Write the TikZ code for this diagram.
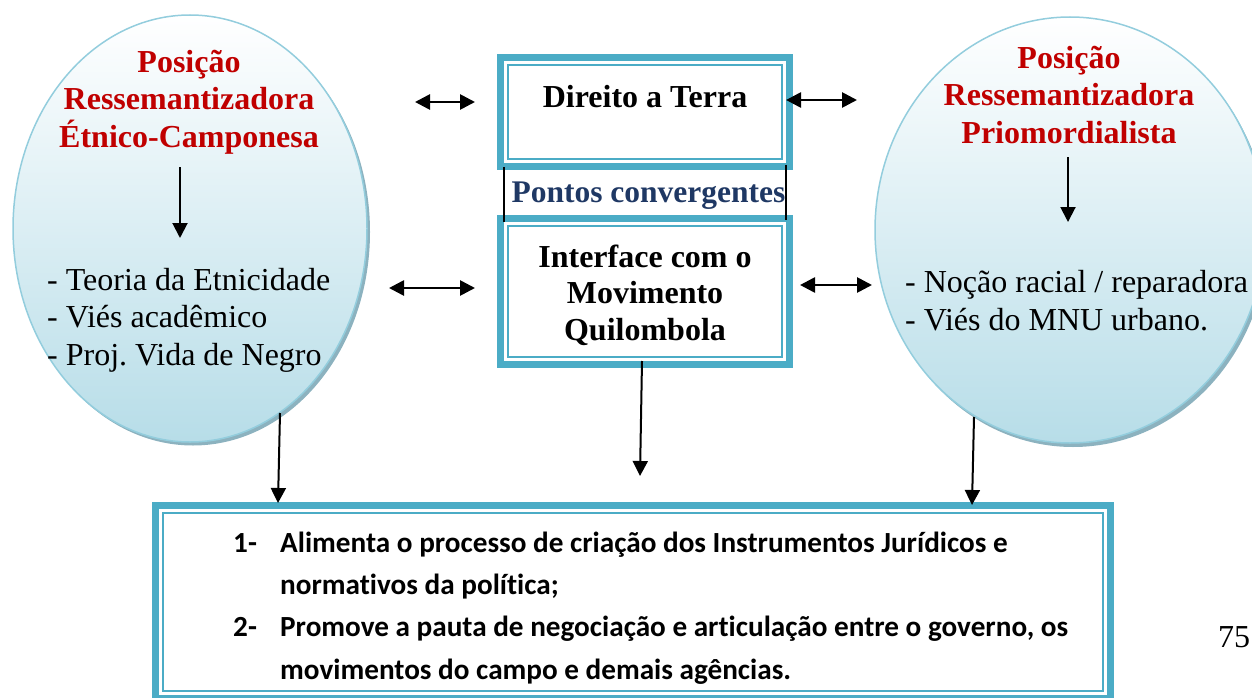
\documentclass[tikz,border=0pt]{standalone}
\usepackage{fontspec}
\setmainfont{Liberation Serif}
\newfontfamily\calib[Ligatures=NoCommon]{Carlito}
\usetikzlibrary{arrows.meta,shapes.geometric}
\definecolor{teal1}{HTML}{4BACC6}
\definecolor{ellborder}{HTML}{93CDDD}
\definecolor{ellbot}{HTML}{B7DDE8}
\definecolor{shadowc}{HTML}{8CB2BF}
\definecolor{titlered}{HTML}{C00000}
\definecolor{navy}{HTML}{1F3864}
\frenchspacing
\begin{document}
\begin{tikzpicture}[x=1pt,y=-1pt,
  ellshadow/.style={ellipse, fill=shadowc, draw=none, inner sep=0pt},
  ellmain/.style={ellipse, draw=ellborder, line width=1.5pt, top color=white, bottom color=ellbot, inner sep=0pt},
  tealbox/.style={draw=teal1, line width=7pt, fill=white, inner sep=0pt},
  thinbox/.style={draw=teal1, line width=2pt, inner sep=0pt},
  titletext/.style={anchor=base, align=center, inner sep=0pt, text=titlered, font=\fontsize{32}{37.5}\selectfont\bfseries},
  listtext/.style={anchor=base west, align=left, inner sep=0pt, font=\fontsize{32}{37.5}\selectfont},
  boxtext/.style={anchor=base, align=center, inner sep=0pt, font=\fontsize{32}{36.5}\selectfont\bfseries},
  arr/.style={-{Triangle[length=15pt,width=15pt]}, line width=2pt},
  darr/.style={{Triangle[length=15pt,width=15pt]}-{Triangle[length=15pt,width=15pt]}, line width=2.7pt},
  vline/.style={line width=2pt}]
\useasboundingbox (0,0) rectangle (1252,698);

% ellipses
\node[ellshadow, minimum width=354pt, minimum height=427pt] (lsh) at (193,232) {};
\node[ellmain, minimum width=354pt, minimum height=427pt] (lell) at (190,228.5) {};
\node[ellshadow, minimum width=390pt, minimum height=426pt] (rsh) at (1073,234) {};
\node[ellmain, minimum width=390pt, minimum height=426pt] (rell) at (1070,230) {};

% ellipse texts (base = last line)
\node[titletext] (lt) at (189,147) {Posição\\Ressemantizadora\\Étnico-Camponesa};
\node[listtext] (ll) at (47,365) {- Teoria da Etnicidade\\- Viés acadêmico\\- Proj. Vida de Negro};
\node[titletext] (rt) at (1069,143) {Posição\\Ressemantizadora\\Priomordialista};
\node[listtext] (rl) at (905,330) {- Noção racial / reparadora\\- Viés do MNU urbano.};

% central boxes
\node[tealbox, minimum width=289pt, minimum height=109pt] (dt) at (645,112) {};
\node[thinbox, minimum width=274pt, minimum height=94pt] (dti) at (dt.center) {};
\node[boxtext] (dtt) at (645,108) {Direito a Terra};

\node[tealbox, minimum width=289pt, minimum height=146pt] (ib) at (645,291.5) {};
\node[thinbox, minimum width=274pt, minimum height=131pt] (ibi) at (ib.center) {};
\node[boxtext] (ibt) at (645,340) {Interface com o\\Movimento\\Quilombola};

\node[anchor=base, inner sep=0pt, text=navy, font=\fontsize{31.5}{36}\selectfont\bfseries] (pc) at (648.5,202) {Pontos convergentes};
\coordinate (pl1) at (504,167); \coordinate (pl2) at (504,222);
\coordinate (pr1) at (786,165); \coordinate (pr2) at (786,220);
\draw[vline] (pl1) -- (pl2);
\draw[vline] (pr1) -- (pr2);

% bottom box
\node[tealbox, minimum width=955pt, minimum height=193pt] (bb) at (633,602) {};
\node[thinbox, minimum width=940pt, minimum height=178pt] (bbi) at (bb.center) {};
\node[anchor=base west, align=left, inner sep=0pt, font=\calib\bfseries\fontsize{29.2}{42.3}\selectfont] (bt) at (233,679)
 {\makebox[47pt][l]{1-}Alimenta o processo de criação dos Instrumentos Jurídicos e\\
  \hspace*{47pt}normativos da política;\\
  \makebox[47pt][l]{2-}Promove a pauta de negociação e articulação entre o governo, os\\
  \hspace*{47pt}movimentos do campo e demais agências.};

\node[anchor=base, inner sep=0pt, font=\fontsize{32}{36}\selectfont] (pg) at (1234,647) {75};

% arrows inside ellipses
\coordinate (la1) at (180,167); \coordinate (la2) at (180,238);
\draw[arr] (la1) -- (la2);
\coordinate (ra1) at (1068,157); \coordinate (ra2) at (1068,222);
\draw[arr] (ra1) -- (ra2);

% double arrows
\coordinate (d1a) at (415,102); \coordinate (d1b) at (475,102);
\draw[darr] (d1a) -- (d1b);
\coordinate (d2a) at (786,100); \coordinate (d2b) at (857,100);
\draw[darr] (d2a) -- (d2b);
\coordinate (d3a) at (389,288); \coordinate (d3b) at (475,288);
\draw[darr] (d3a) -- (d3b);
\coordinate (d4a) at (800,285); \coordinate (d4b) at (872,285);
\draw[darr] (d4a) -- (d4b);

% down arrows
\coordinate (ld1) at (280,413); \coordinate (ld2) at (278,503);
\draw[arr] (ld1) -- (ld2);
\coordinate (md1) at (642,361); \coordinate (md2) at (640,476);
\draw[arr] (md1) -- (md2);
\coordinate (rd1) at (974,417); \coordinate (rd2) at (972,505);
\draw[arr] (rd1) -- (rd2);
\end{tikzpicture}
\end{document}
